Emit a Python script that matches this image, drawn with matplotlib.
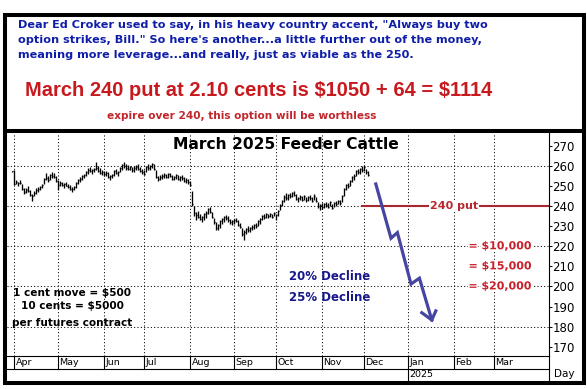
import numpy as np
import pandas as pd
import matplotlib
matplotlib.use("Agg")
import matplotlib.pyplot as plt
from matplotlib.lines import Line2D
from matplotlib.patches import Rectangle
import matplotlib.patheffects as pe

# ---------------- data ----------------
first_day = '2024-03-29'
origin_day = '2024-04-01'

lows = [257.0, 250.5, 251.0, 250.0, 251.0, 248.0, 246.0, 246.5, 247.0, 245.0,
        242.6, 245.0, 246.0, 247.0, 248.0, 249.0, 251.0, 253.0, 252.0, 253.0,
        254.0, 254.0, 252.0, 248.0, 250.0, 250.0, 249.0, 250.0, 249.0, 248.0,
        247.0, 248.0, 249.0, 251.0, 252.0, 253.0, 254.0, 255.0, 256.0, 257.0,
        256.0, 257.0, 258.0, 257.0, 256.0, 255.5, 255.0, 255.0, 254.0, 253.0,
        254.0, 255.0, 256.0, 255.0, 257.0, 258.0, 259.0, 258.0, 258.0, 258.0,
        257.0, 257.0, 258.0, 258.0, 257.0, 256.0, 255.5, 257.0, 258.0, 258.0,
        259.0, 258.0, 254.0, 252.5, 253.0, 253.5, 254.0, 254.0, 254.0, 254.5,
        253.0, 253.0, 253.5, 253.0, 252.5, 253.0, 252.0, 251.5, 251.0, 250.0,
        240.0, 235.0, 233.0, 234.0, 233.0, 232.0, 233.0, 234.0, 236.0, 236.5,
        234.0, 231.0, 228.0, 228.0, 229.0, 231.0, 232.0, 233.0, 232.0, 231.0,
        230.5, 231.0, 232.0, 230.0, 229.0, 225.0, 223.0, 226.0, 227.0, 227.0,
        228.0, 228.5, 229.0, 230.0, 231.0, 233.0, 233.5, 234.0, 234.0, 234.5,
        234.0, 235.0, 233.0, 235.0, 238.0, 240.0, 242.0, 243.0, 243.0, 244.0,
        244.5, 245.0, 243.0, 242.0, 243.0, 242.5, 243.0, 242.0, 242.5, 243.0,
        242.0, 243.0, 242.0, 239.0, 238.0, 238.5, 239.0, 239.5, 239.0, 240.0,
        238.5, 239.5, 240.0, 241.0, 240.5, 242.0, 245.0, 248.0, 249.0, 250.0,
        252.0, 253.0, 255.0, 256.0, 256.0, 257.0, 257.5, 256.0, 255.0]

highs = [257.6, 258.0, 253.0, 252.0, 253.0, 251.0, 249.0, 249.0, 250.0, 248.0,
         246.0, 247.5, 249.0, 249.5, 250.0, 251.0, 254.0, 256.5, 255.0, 256.0,
         257.0, 256.5, 255.0, 253.0, 252.5, 252.0, 251.5, 252.0, 251.0, 250.5,
         249.5, 250.0, 252.0, 253.5, 254.5, 255.5, 256.0, 257.5, 259.0, 259.5,
         258.5, 259.0, 261.8, 260.0, 259.0, 258.0, 257.5, 257.5, 257.0, 255.5,
         256.0, 258.0, 258.5, 257.5, 259.5, 261.0, 262.0, 261.0, 260.5, 260.0,
         259.5, 260.0, 260.5, 261.0, 259.5, 258.5, 258.0, 260.0, 261.0, 260.5,
         261.5, 261.0, 258.0, 255.0, 255.5, 256.0, 256.5, 256.0, 256.5, 256.5,
         255.5, 255.0, 256.0, 255.5, 255.0, 255.5, 254.5, 254.0, 253.5, 252.5,
         247.5, 240.0, 237.0, 237.5, 236.0, 235.0, 236.5, 237.5, 239.0, 239.7,
         237.0, 234.0, 232.0, 231.0, 233.0, 234.0, 235.0, 235.5, 235.0, 233.5,
         233.0, 233.5, 234.0, 233.0, 231.5, 229.0, 228.0, 229.0, 230.0, 229.5,
         230.5, 231.0, 231.5, 233.0, 234.0, 235.5, 236.0, 236.5, 236.0, 236.5,
         236.0, 237.0, 236.0, 238.0, 241.0, 243.0, 245.5, 246.5, 246.0, 246.5,
         247.0, 247.5, 246.0, 244.5, 245.5, 245.0, 245.5, 244.5, 245.0, 245.5,
         244.5, 246.0, 244.5, 242.0, 241.0, 241.5, 241.5, 242.0, 241.5, 242.5,
         241.0, 242.0, 242.5, 243.0, 243.0, 245.5, 249.0, 251.0, 251.5, 253.0,
         255.0, 256.0, 258.0, 258.5, 259.0, 260.0, 260.5, 258.5, 257.5]

closes = [257.3, 251.0, 252.0, 251.5, 251.5, 248.5, 247.0, 248.0, 247.5, 245.5,
          245.0, 246.5, 248.0, 248.5, 249.5, 250.5, 253.5, 254.0, 253.0, 255.5,
          255.0, 254.5, 252.5, 250.5, 251.5, 250.5, 251.0, 250.0, 249.5, 248.5,
          248.5, 249.5, 251.5, 253.0, 253.5, 255.0, 255.5, 257.0, 258.0, 257.5,
          258.0, 258.5, 259.0, 257.5, 256.5, 257.0, 256.0, 256.5, 254.5, 255.0,
          255.5, 257.5, 256.5, 257.0, 259.0, 260.5, 260.0, 259.0, 258.5, 259.5,
          258.0, 259.0, 259.5, 258.5, 257.5, 257.0, 256.0, 259.5, 259.0, 260.0,
          261.0, 258.5, 254.5, 253.5, 254.5, 255.0, 255.5, 254.5, 256.0, 255.0,
          253.5, 254.5, 255.5, 253.5, 254.5, 254.0, 252.5, 253.0, 252.0, 250.5,
          241.0, 236.5, 235.5, 234.5, 233.5, 234.5, 236.0, 236.5, 238.5, 237.0,
          234.5, 232.0, 229.0, 230.5, 232.5, 233.5, 234.5, 234.0, 233.0, 232.0,
          232.5, 233.0, 232.5, 230.5, 229.5, 226.0, 227.0, 228.5, 228.0, 229.0,
          229.5, 230.5, 230.0, 232.5, 233.5, 235.0, 234.5, 236.0, 235.0, 236.0,
          234.5, 236.5, 235.5, 237.5, 240.5, 242.5, 244.5, 244.0, 245.5, 245.0,
          246.5, 245.5, 243.5, 244.0, 244.5, 243.0, 245.0, 243.0, 244.5, 244.0,
          242.5, 245.0, 242.5, 240.0, 240.5, 239.5, 241.0, 240.5, 239.5, 242.0,
          239.0, 241.5, 241.0, 242.5, 241.5, 245.0, 248.5, 250.5, 250.0, 252.5,
          254.5, 255.0, 257.5, 257.0, 258.5, 258.0, 259.5, 257.0, 255.5]

month_labels = ['Apr', 'May', 'Jun', 'Jul', 'Aug', 'Sep', 'Oct', 'Nov', 'Dec',
                'Jan', 'Feb', 'Mar']
year_label = '2025'
y_ticks = [170, 180, 190, 200, 210, 220, 230, 240, 250, 260, 270]
grid_levels = [180, 200, 220, 240, 260]

strike = 240
put_line_start = 174          # business-day index where the put line starts
amount_labels = ['= $10,000', '= $15,000', '= $20,000']
amount_levels = [220, 210, 200]
decline_labels = ['20% Decline', '25% Decline']
decline_levels = [204.9, 194.6]
note_lines = ['1 cent move = $500', '10 cents = $5000', 'per futures contract']
note_levels = [196.7, 190.3, 181.8]

# sketched arrow path (business-day index, price)
arrow_x = [180.9, 188.5, 191.7, 198.5, 202.7, 208.9]
arrow_y = [251.0, 224.0, 226.8, 201.2, 204.1, 183.3]
head_x = [203.9, 208.9, 210.9]
head_y = [186.9, 183.3, 187.8]

text_lines = ['Dear Ed Croker used to say, in his heavy country accent, "Always buy two',
              'option strikes, Bill." So here\'s another...a little further out of the money,',
              'meaning more leverage...and really, just as viable as the 250.']
headline = 'March 240 put at 2.10 cents is $1050 + 64 = $1114'
subline = 'expire over 240, this option will be worthless'
title = 'March 2025 Feeder Cattle'

# ---------------- figure ----------------
W, H = 587, 389
fig = plt.figure(figsize=(W / 100, H / 100), dpi=100)
fig.patch.set_facecolor('white')

def fx(px):
    return px / W

def fy(py):
    return 1 - py / H

dates = pd.bdate_range(first_day, periods=len(lows)).values.astype('datetime64[D]')
origin = np.datetime64(origin_day)
xs = np.busday_count(origin, dates)
months = pd.date_range('2024-04-01', periods=len(month_labels), freq='MS').values.astype('datetime64[D]')
mx = np.busday_count(origin, months)

L, R, T, B = 7, 549.3, 133, 355.7
ax = fig.add_axes([fx(L), fy(B), (R - L) / W, (B - T) / H])
ax.set_xlim(-3.5, 267.65)
ax.set_ylim(165.5, 276.4)
ax.set_facecolor('white')

for s in ['left', 'top']:
    ax.spines[s].set_visible(False)
for s in ['right', 'bottom']:
    ax.spines[s].set_color('black')
    ax.spines[s].set_linewidth(0.8)

ax.set_xticks([])
ax.yaxis.tick_right()
ax.set_yticks(y_ticks)
ax.tick_params(axis='y', length=2, width=0.7, pad=0.2, labelsize=8.5, colors='black')
for lab in ax.get_yticklabels():
    lab.set_family('DejaVu Sans')

dot = (0, (1, 2.2))
for g in grid_levels:
    ax.axhline(g, color='black', lw=0.75, ls=dot, zorder=0.5)
for m in mx:
    ax.axvline(m, color='black', lw=0.75, ls=dot, zorder=0.5)

# price bars
ax.vlines(xs, lows, highs, color='black', lw=0.95, zorder=2)
ax.hlines(closes, xs, xs + 0.6, color='black', lw=0.95, zorder=2)

# put line
ax.plot([put_line_start, ax.get_xlim()[1]], [strike, strike], color='#A8282E', lw=1.5, zorder=3)
ax.text(220, strike, f'{strike} put', ha='center', va='center', fontsize=8,
        fontweight='bold', family='DejaVu Sans', color='#B8282E', zorder=4,
        bbox=dict(fc='white', ec='none', pad=0.6))

halo = [pe.withStroke(linewidth=2.2, foreground='white')]
for lab, lv in zip(amount_labels, amount_levels):
    ax.text(243, lv, lab, ha='center', va='center', fontsize=7.9, fontweight='bold',
            family='DejaVu Sans', color='#C8202A', zorder=4, path_effects=halo,
            parse_math=False)

for lab, lv in zip(decline_labels, decline_levels):
    ax.text(137.5, lv, lab, ha='left', va='center', fontsize=8.5, fontweight='bold',
            family='DejaVu Sans', color='#18188C', zorder=4)

for lab, lv in zip(note_lines, note_levels):
    ax.text(29, lv, lab, ha='center', va='center', fontsize=7.6, fontweight='bold',
            family='DejaVu Sans', color='black', zorder=4, parse_math=False)

# arrow
ax.plot(arrow_x, arrow_y, color='#4646A2', lw=2.3, zorder=5, solid_joinstyle='miter')
ax.plot(head_x, head_y, color='#4646A2', lw=2.3, zorder=5, solid_joinstyle='miter')

# date band below plot
trans = ax.get_xaxis_transform()
row1 = (B - 368.7) / (B - T)
row2 = (B - 383) / (B - T)
ax.plot(ax.get_xlim(), [row1, row1], transform=trans, clip_on=False, color='black', lw=0.8)
for m, lab in zip(mx, month_labels):
    bottom = row2 if lab == 'Jan' else row1
    ax.plot([m, m], [0, bottom], transform=trans, clip_on=False, color='black', lw=0.8)
    ax.text(m + 0.8, row1 / 2, lab, transform=trans, ha='left', va='center',
            fontsize=6.8, family='DejaVu Sans', color='black')
ax.text(mx[month_labels.index('Jan')] + 0.8, (row1 + row2) / 2 + 0.005, year_label,
        transform=trans, ha='left', va='center', fontsize=6.8, family='DejaVu Sans')
ax.plot([1, 1], [0, row2], transform=ax.transAxes, clip_on=False, color='black', lw=0.8)
ax.text(1 + 4.5 / (R - L), (B - 374) / (B - T), 'Day', transform=ax.transAxes,
        ha='left', va='center', fontsize=7.5, family='DejaVu Sans')

# chart title
fig.text(fx(285.5), fy(149), title, ha='center', va='baseline', fontsize=11.2,
         fontweight='bold', family='DejaVu Sans', color='black')

# header text
blue = '#0F1EA8'
for line, base in zip(text_lines, [27.5, 43.0, 58.5]):
    fig.text(fx(18), fy(base), line, ha='left', va='baseline', fontsize=8.15,
             fontweight='bold', family='DejaVu Sans', color=blue)
fig.text(fx(25), fy(96), headline, ha='left', va='baseline', fontsize=14.5,
         fontweight='bold', family='Liberation Sans', color='#C8191E', parse_math=False)
fig.text(fx(107), fy(119.3), subline, ha='left', va='baseline', fontsize=7.6,
         fontweight='bold', family='DejaVu Sans', color='#C0262B')

# outer frame and divider
fig.add_artist(Rectangle((fx(5), fy(383)), fx(584) - fx(5), fy(14.7) - fy(383),
                         transform=fig.transFigure, fill=False, lw=2.9, ec='black'))
fig.add_artist(Line2D([fx(5), fx(584)], [fy(130.6), fy(130.6)], transform=fig.transFigure,
                      lw=2.9, color='black'))

fig.savefig('out.png', dpi=100, facecolor='white')
